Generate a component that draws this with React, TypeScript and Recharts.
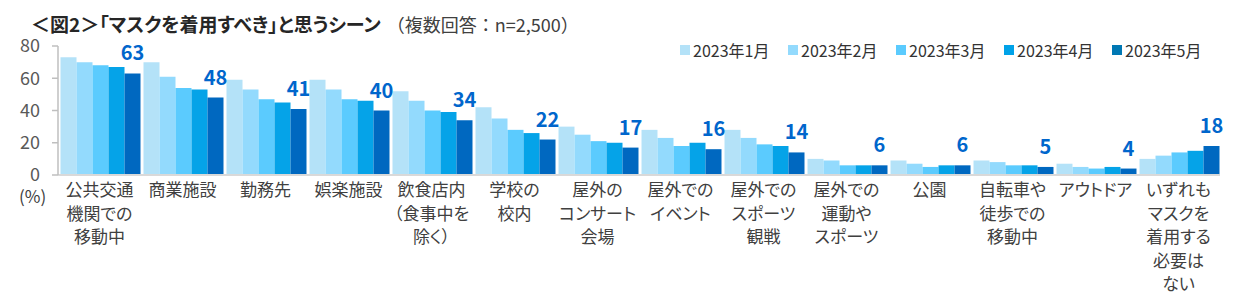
import React from 'react';
import { BarChart, Bar, XAxis, YAxis, LabelList } from 'recharts';

const categories = [
  '公共交通\n機関での\n移動中',
  '商業施設',
  '勤務先',
  '娯楽施設',
  '飲食店内\n（食事中を\n除く）',
  '学校の\n校内',
  '屋外の\nコンサート\n会場',
  '屋外での\nイベント',
  '屋外での\nスポーツ\n観戦',
  '屋外での\n運動や\nスポーツ',
  '公園',
  '自転車や\n徒歩での\n移動中',
  'アウトドア',
  'いずれも\nマスクを\n着用する\n必要は\nない',
];

const jan = [73, 70, 59, 59, 52, 42, 30, 28, 28, 10, 9, 9, 7, 10];
const feb = [70, 61, 53, 53, 46, 35, 25, 23, 23, 9, 7, 8, 5, 12];
const mar = [68, 54, 47, 47, 40, 28, 21, 18, 19, 6, 5, 6, 4, 14];
const apr = [67, 53, 45, 46, 39, 26, 20, 20, 18, 6, 6, 6, 5, 15];
const may = [63, 48, 41, 40, 34, 22, 17, 16, 14, 6, 6, 5, 4, 18];

const seriesNames = ['2023年1月', '2023年2月', '2023年3月', '2023年4月', '2023年5月'];
const barColors = ['#B4E2F8', '#93DAFD', '#5BCBFE', '#05A3E8', '#0068C0'];
const legendColors = ['#B4E2F8', '#93DAFD', '#5BCBFE', '#00A2E8', '#0078B4'];
const yTicks = [0, 20, 40, 60, 80];

const data = categories.map((name, i) => ({
  name,
  s1: jan[i],
  s2: feb[i],
  s3: mar[i],
  s4: apr[i],
  s5: may[i],
}));

const FONT = "'Noto Sans CJK JP', 'Noto Sans', sans-serif";

const CategoryTick = ({ x, y, payload }: any) => {
  const lines = String(payload.value).split('\n');
  return (
    <text
      x={x}
      y={y}
      textAnchor="middle"
      fill="#404040"
      fontSize={17}
      fontFamily={FONT}
      style={{ fontFeatureSettings: '"palt"' }}
    >
      {lines.map((line, i) => (
        <tspan key={i} x={x} dy={i === 0 ? 21 : 23.5}>
          {line}
        </tspan>
      ))}
    </text>
  );
};

const LegendRow = () => (
  <div
    style={{
      position: 'absolute',
      left: 680,
      top: 38,
      display: 'flex',
      fontFamily: FONT,
      fontSize: 16,
      color: '#333',
      fontFeatureSettings: '"palt"',
    }}
  >
    {seriesNames.map((n, i) => (
      <div key={n} style={{ display: 'flex', alignItems: 'center', width: 108 }}>
        <span
          style={{
            display: 'inline-block',
            width: 10,
            height: 10,
            background: legendColors[i],
            marginRight: 3,
          }}
        />
        <span>{n}</span>
      </div>
    ))}
  </div>
);

export default function App() {
  return (
    <div style={{ position: 'absolute', left: 0, top: 0, width: 1256, height: 304, background: '#fff' }}>
      <div
        style={{
          position: 'absolute',
          left: 31,
          top: 13,
          height: 22,
          lineHeight: '22px',
          fontFamily: FONT,
          color: '#262626',
          whiteSpace: 'nowrap',
        }}
      >
        <span style={{ fontSize: 19, fontWeight: 700, fontFeatureSettings: '"palt"' }}>
          ＜図2＞「マスクを着用すべき」と思うシーン
        </span>
        <span style={{ fontSize: 18, marginLeft: 6, color: '#404040' }}>（複数回答：n=2,500）</span>
      </div>
      <LegendRow />
      <div
        style={{
          position: 'absolute',
          left: 19,
          top: 189,
          lineHeight: '14px',
          fontFamily: FONT,
          fontSize: 17,
          color: '#404040',
        }}
      >
        (%)
      </div>
      <BarChart
        width={1256}
        height={304}
        data={data}
        margin={{ top: 46, right: 36, left: 0, bottom: 0 }}
        barCategoryGap={2.5}
        barGap={0}
      >
        <XAxis
          dataKey="name"
          interval={0}
          height={129}
          tickLine={false}
          tickSize={0}
          tickMargin={0}
          axisLine={{ stroke: '#D9D9D9', strokeWidth: 2 }}
          tick={<CategoryTick />}
        />
        <YAxis
          width={58}
          domain={[0, 80]}
          ticks={yTicks}
          interval={0}
          axisLine={{ stroke: '#BFBFBF', strokeWidth: 1.5 }}
          tickLine={{ stroke: '#BFBFBF', strokeWidth: 1.5 }}
          tickSize={6}
          tickMargin={12}
          tick={{ fill: '#595959', fontSize: 18, fontFamily: FONT }}
        />
        {['s1', 's2', 's3', 's4', 's5'].map((key, i) => (
          <Bar key={key} dataKey={key} name={seriesNames[i]} fill={barColors[i]} isAnimationActive={false}>
            {i === 4 && (
              <LabelList
                dataKey={key}
                position="top"
                offset={13}
                fill="#0066CC"
                fontSize={20}
                fontWeight={700}
                fontFamily={FONT}
              />
            )}
          </Bar>
        ))}
      </BarChart>
    </div>
  );
}
